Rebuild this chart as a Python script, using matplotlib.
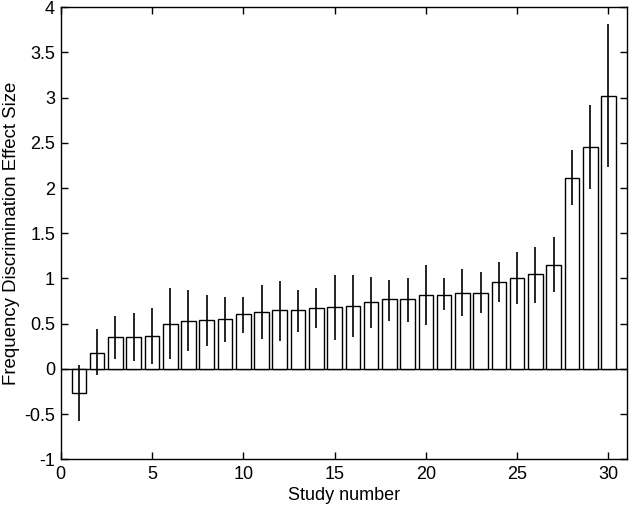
import matplotlib
matplotlib.use("Agg")
import matplotlib.pyplot as plt
import numpy as np

plt.rcParams['font.family'] = ['Liberation Sans Narrow', 'Liberation Sans', 'DejaVu Sans']

# effect sizes per study, with lower / upper interval ends
study = np.arange(1, 31)
effect = [-0.27, 0.18, 0.35, 0.35, 0.36, 0.50, 0.53, 0.54, 0.55, 0.61,
          0.63, 0.65, 0.65, 0.67, 0.68, 0.70, 0.74, 0.77, 0.77, 0.82,
          0.82, 0.84, 0.84, 0.96, 1.01, 1.05, 1.15, 2.11, 2.46, 3.02]
ci_low = [-0.58, -0.07, 0.11, 0.09, 0.055, 0.11, 0.20, 0.25, 0.30, 0.40,
          0.33, 0.31, 0.41, 0.45, 0.32, 0.35, 0.45, 0.53, 0.52, 0.49,
          0.65, 0.58, 0.62, 0.74, 0.72, 0.73, 0.85, 1.81, 1.99, 2.23]
ci_high = [0.044, 0.44, 0.59, 0.62, 0.67, 0.89, 0.87, 0.82, 0.80, 0.80,
           0.93, 0.97, 0.87, 0.90, 1.04, 1.04, 1.02, 0.98, 1.00, 1.15,
           1.00, 1.10, 1.07, 1.18, 1.29, 1.35, 1.46, 2.42, 2.92, 3.82]

fig = plt.figure(figsize=(6.3, 5.07), dpi=100)
ax = fig.add_axes([0.0963, 0.0941, 0.8985, 0.8915])

ax.bar(study, effect, width=0.8, color='white', edgecolor='black', linewidth=1.0, zorder=2)
ax.vlines(study, ci_low, ci_high, color='black', linewidth=1.2, zorder=3)
ax.axhline(0, color='black', linewidth=1.0, zorder=1)

ax.set_xlim(0, 31)
ax.set_ylim(-1, 4)
ax.set_xticks(np.arange(0, 31, 5))
ax.set_yticks(np.arange(-1, 4.01, 0.5))
ax.set_yticklabels(['-1', '-0.5', '0', '0.5', '1', '1.5', '2', '2.5', '3', '3.5', '4'])
ax.tick_params(direction='in', top=True, right=True, length=5, width=1.0, labelsize=13)
ax.tick_params(axis='x', pad=5)
ax.tick_params(axis='y', pad=4)
for s in ax.spines.values():
    s.set_linewidth(1.0)

ax.set_xlabel('Study number', fontsize=13, labelpad=3)
ax.set_ylabel('Frequency Discrimination Effect Size', fontsize=13.4,
              family=['Liberation Sans', 'DejaVu Sans'], labelpad=3)

fig.savefig('out.png', dpi=100)
